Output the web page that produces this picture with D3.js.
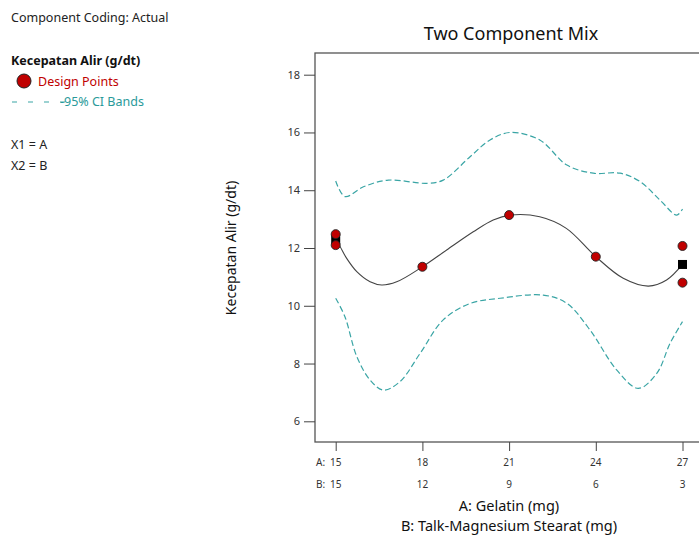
<!DOCTYPE html>
<html>
<head>
<meta charset="utf-8">
<script src="https://cdn.jsdelivr.net/npm/d3@7"></script>
<style>
  html, body { margin: 0; padding: 0; background: #fff; }
  svg { display: block; font-family: "Noto Sans", "Open Sans", sans-serif; }
</style>
</head>
<body>
<svg id="chart" width="699" height="535"></svg>
<script>
// A: Gelatin (mg) ticks and matching B: Talk-Magnesium Stearat (mg)
const tickA = [15, 18, 21, 24, 27];
const tickB = [15, 12, 9, 6, 3];
const yTicks = [6, 8, 10, 12, 14, 16, 18];

// Design points (A, Kecepatan Alir)
const pointA = [15, 15, 18, 21, 24, 27, 27];
const pointV = [12.48, 12.10, 11.35, 13.14, 11.70, 12.07, 10.80];

// Replicated runs (mean markers)
const squareA = [15, 27];
const squareV = [12.29, 11.43];

// Fitted response
const fitA = [15, 15.15, 15.38, 15.73, 16.19, 16.59, 17.11, 18, 18.84, 19.76, 20.45, 21.05, 22.06, 22.98, 24, 24.95, 25.82, 26.45, 27];
const fitV = [12.28, 12.05, 11.64, 11.18, 10.83, 10.72, 10.83, 11.35, 11.93, 12.56, 12.97, 13.14, 13.08, 12.68, 11.70, 10.95, 10.68, 10.89, 11.43];

// Upper 95% CI band
const upA = [15, 15.32, 15.96, 16.82, 18.15, 18.72, 19.65, 20.34, 21.03, 22.06, 23.0, 23.91, 24.84, 25.53, 26.22, 26.8, 27];
const upV = [14.32, 13.78, 14.12, 14.35, 14.24, 14.35, 15.16, 15.74, 16.0, 15.74, 14.87, 14.59, 14.59, 14.30, 13.66, 13.14, 13.35];

// Lower 95% CI band
const loA = [15, 15.32, 15.73, 16.19, 16.65, 17.22, 17.92, 18.72, 19.65, 20.69, 22.18, 22.99, 23.80, 24.72, 25.47, 26.11, 26.57, 27];
const loV = [10.26, 9.62, 8.24, 7.43, 7.08, 7.37, 8.35, 9.51, 10.08, 10.26, 10.37, 10.09, 9.16, 7.78, 7.14, 7.66, 8.70, 9.45];

const svg = d3.select("#chart");
const teal = "#3aa5a5";
const red = "#c00000";

const frame = { left: 315, top: 53, right: 701, bottom: 442 };

const x = d3.scaleLinear().domain([15, 27]).range([335.7, 682.5]);
const y = d3.scaleLinear().domain([6, 18]).range([421.3, 74.7]);

// Clip region for the plot area
svg.append("defs").append("clipPath").attr("id", "plotClip")
  .append("rect")
  .attr("x", frame.left).attr("y", frame.top)
  .attr("width", frame.right - frame.left).attr("height", frame.bottom - frame.top);

// Frame
svg.append("rect")
  .attr("x", frame.left).attr("y", frame.top)
  .attr("width", frame.right - frame.left).attr("height", frame.bottom - frame.top)
  .attr("fill", "none").attr("stroke", "#555").attr("stroke-width", 1.3);

// Y axis
const yAxis = svg.append("g")
  .attr("transform", `translate(${frame.left},0)`)
  .call(d3.axisLeft(y).tickValues(yTicks).tickSize(11).tickPadding(4));
yAxis.select(".domain").remove();
yAxis.selectAll("line").attr("stroke", "#444");
yAxis.selectAll("text").attr("font-size", 11).attr("fill", "#333").attr("font-family", "Noto Sans, sans-serif");

// X axis: ticks only, labels drawn as two rows
const xAxis = svg.append("g")
  .attr("transform", `translate(0,${frame.bottom})`)
  .call(d3.axisBottom(x).tickValues(tickA).tickSize(9).tickFormat(""));
xAxis.select(".domain").remove();
xAxis.selectAll("line").attr("stroke", "#444");

const rowA = 466, rowB = 488;
svg.selectAll(".labA").data(tickA).join("text")
  .attr("x", d => x(d)).attr("y", rowA)
  .attr("text-anchor", "middle").attr("font-size", 10).attr("fill", "#333")
  .text(d => d);
svg.selectAll(".labB").data(tickB).join("text")
  .attr("x", (d, i) => x(tickA[i])).attr("y", rowB)
  .attr("text-anchor", "middle").attr("font-size", 10).attr("fill", "#333")
  .text(d => d);
svg.append("text").attr("x", 316).attr("y", rowA).attr("font-size", 10).attr("fill", "#333").text("A:");
svg.append("text").attr("x", 316).attr("y", rowB).attr("font-size", 10).attr("fill", "#333").text("B:");

// Axis titles
svg.append("text").attr("x", 509).attr("y", 510.5)
  .attr("text-anchor", "middle").attr("font-size", 14.5).attr("fill", "#111")
  .text("A: Gelatin (mg)");
svg.append("text").attr("x", 509).attr("y", 530.5)
  .attr("text-anchor", "middle").attr("font-size", 14.5).attr("fill", "#111")
  .text("B: Talk-Magnesium Stearat (mg)");
svg.append("text")
  .attr("transform", "translate(236,248) rotate(-90)")
  .attr("text-anchor", "middle").attr("font-size", 14).attr("fill", "#111")
  .text("Kecepatan Alir (g/dt)");

// Title
svg.append("text").attr("x", 511).attr("y", 40)
  .attr("text-anchor", "middle").attr("font-size", 18).attr("fill", "#111")
  .text("Two Component Mix");

// Curves
const plot = svg.append("g").attr("clip-path", "url(#plotClip)");
const line = d3.line().x(d => x(d[0])).y(d => y(d[1])).curve(d3.curveCatmullRom.alpha(0.5));

plot.append("path").datum(d3.zip(upA, upV))
  .attr("d", line).attr("fill", "none").attr("stroke", teal)
  .attr("stroke-width", 1.2).attr("stroke-dasharray", "6,3");
plot.append("path").datum(d3.zip(loA, loV))
  .attr("d", line).attr("fill", "none").attr("stroke", teal)
  .attr("stroke-width", 1.2).attr("stroke-dasharray", "6,3");
plot.append("path").datum(d3.zip(fitA, fitV))
  .attr("d", line).attr("fill", "none").attr("stroke", "#444")
  .attr("stroke-width", 1.1);

// Replicate mean markers
const sq = 9;
svg.selectAll(".sq").data(d3.zip(squareA, squareV)).join("rect")
  .attr("x", d => x(d[0]) - sq / 2).attr("y", d => y(d[1]) - sq / 2)
  .attr("width", sq).attr("height", sq)
  .attr("fill", "#000");

// Design points
svg.selectAll(".pt").data(d3.zip(pointA, pointV)).join("circle")
  .attr("cx", d => x(d[0])).attr("cy", d => y(d[1])).attr("r", 4.5)
  .attr("fill", red).attr("stroke", "#222").attr("stroke-width", 0.9);

// Left-side legend panel
const info = svg.append("g");
info.append("text").attr("x", 11).attr("y", 22).attr("font-size", 12.5).attr("fill", "#222")
  .text("Component Coding: Actual");
info.append("text").attr("x", 11).attr("y", 65).attr("font-size", 12.5).attr("font-weight", "bold").attr("fill", "#111")
  .text("Kecepatan Alir (g/dt)");
info.append("circle").attr("cx", 24).attr("cy", 81).attr("r", 7)
  .attr("fill", red).attr("stroke", "#222").attr("stroke-width", 1);
info.append("text").attr("x", 38).attr("y", 86).attr("font-size", 12.5).attr("fill", red)
  .text("Design Points");
info.append("line").attr("x1", 12).attr("x2", 65).attr("y1", 102).attr("y2", 102)
  .attr("stroke", teal).attr("stroke-width", 1.2).attr("stroke-dasharray", "5,11");
info.append("text").attr("x", 60).attr("y", 106).attr("font-size", 12.5).attr("fill", "#2a9a9a")
  .text("-95% CI Bands");
info.append("text").attr("x", 11).attr("y", 149).attr("font-size", 12.5).attr("fill", "#222")
  .text("X1 = A");
info.append("text").attr("x", 11).attr("y", 170).attr("font-size", 12.5).attr("fill", "#222")
  .text("X2 = B");
</script>
</body>
</html>
